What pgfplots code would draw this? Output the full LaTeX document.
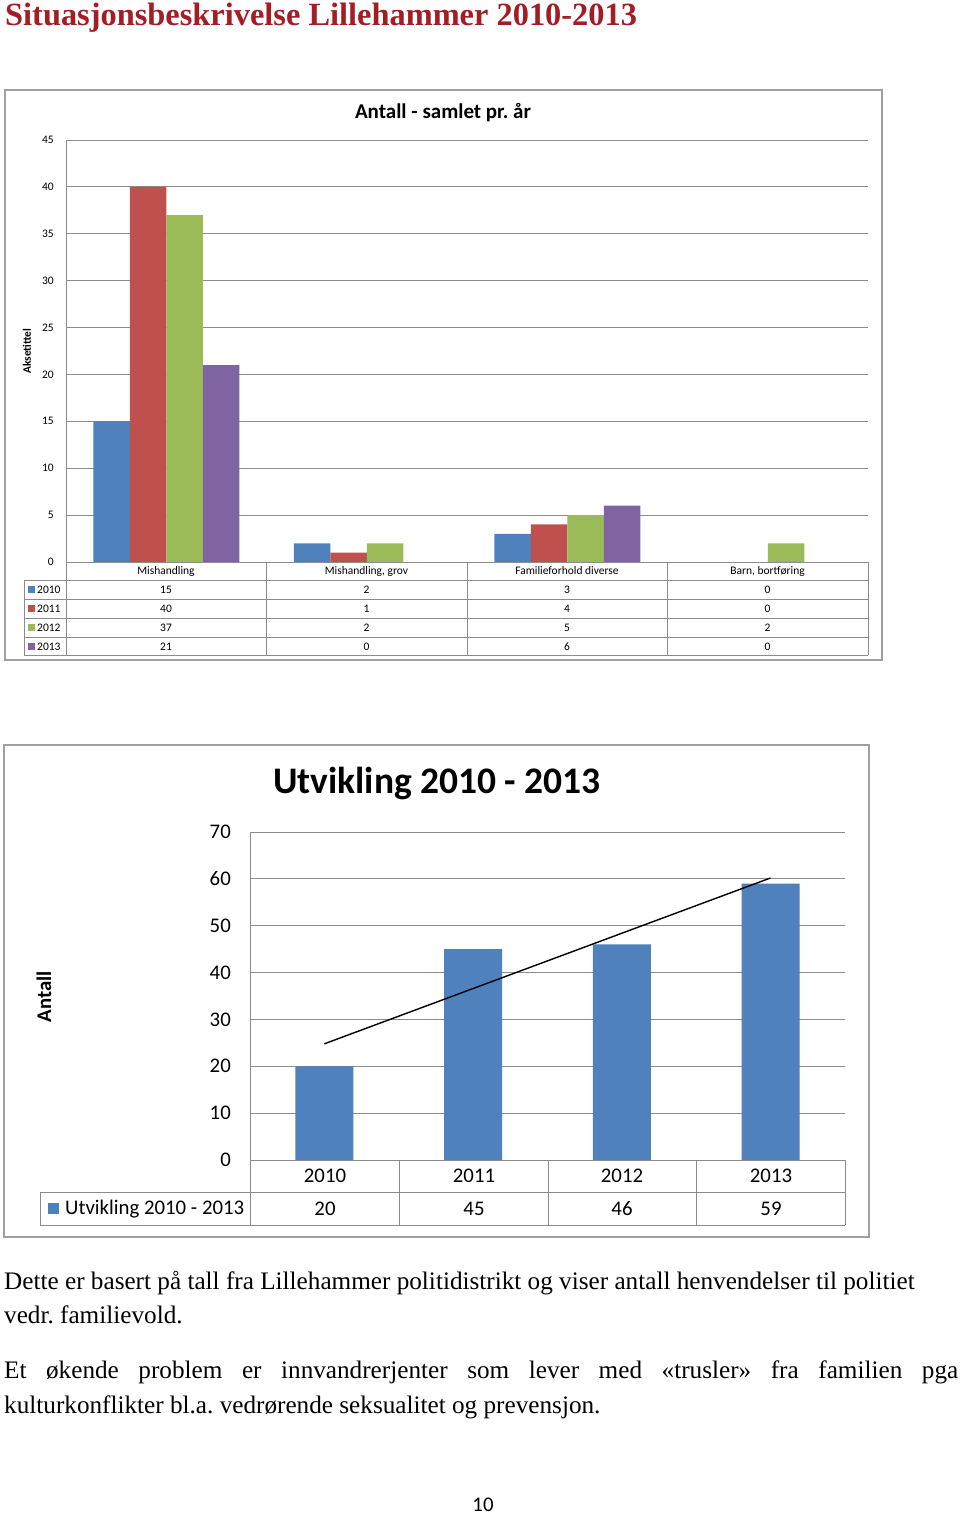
\documentclass[border=0pt]{standalone}
\usepackage{pgfplots}
\pgfplotsset{compat=1.18}
\usepackage{fontspec}
\setmainfont{Liberation Serif}
\newfontfamily\calfont{Carlito}
\definecolor{c1}{HTML}{4F81BD}
\definecolor{c2}{HTML}{C0504D}
\definecolor{c3}{HTML}{9BBB59}
\definecolor{c4}{HTML}{8064A2}
\definecolor{gridc}{HTML}{8C8C8C}
\definecolor{framec}{HTML}{A0A0A0}
\definecolor{titlered}{HTML}{A31D24}
\newcommand{\fs}[1]{\fontsize{#1}{#1}\selectfont}
\frenchspacing
\begin{document}
\begin{tikzpicture}[x=1pt,y=1pt]
\path[fill=white, use as bounding box] (0,0) rectangle (960,-1515);
\node[anchor=base west, inner sep=0pt, text=titlered, font=\bfseries\fs{32.4}] at (5,-25) {Situasjonsbeskrivelse Lillehammer 2010-2013};
% ---------- chart 1 ----------
\draw[framec, line width=1.2pt] (5,-90) rectangle (882,-660);
\node[font=\calfont\bfseries\fs{21}] at (443,-113) {Antall - samlet pr.\ år};
\node[font=\calfont\bfseries\fs{11.4}, rotate=90] at (27,-351) {Aksetittel};
\begin{axis}[at={(66pt,-562pt)}, anchor=south west, scale only axis, width=802pt, height=422pt,
 xmin=-0.5, xmax=3.5, ymin=0, ymax=45, enlargelimits=false,
 ybar=0pt, bar width=36.5pt,
 axis y line*=left, axis x line*=bottom, axis line style={gridc, line width=0.8pt},
 xtick=\empty, ytick={0,5,...,45},
 ymajorgrids, major grid style={gridc, line width=0.8pt},
 major tick length=0pt,
 /pgf/number format/assume math mode=true,
 yticklabel style={font=\calfont\fs{11.5}, inner sep=0pt, xshift=-12pt},
]
\addplot[fill=c1, draw=none] coordinates {(0,15) (1,2) (2,3) (3,0)};
\addplot[fill=c2, draw=none] coordinates {(0,40) (1,1) (2,4) (3,0)};
\addplot[fill=c3, draw=none] coordinates {(0,37) (1,2) (2,5) (3,2)};
\addplot[fill=c4, draw=none] coordinates {(0,21) (1,0) (2,6) (3,0)};
\end{axis}
\begin{scope}[gridc, line width=0.8pt]
\draw (66,-562) -- (868,-562);
\foreach \y in {580,599,618,637,655} \draw (24,-\y) -- (868,-\y);
\draw (24,-580) -- (24,-655);
\foreach \x in {66,266,467,667,868} \draw (\x,-562) -- (\x,-655);
\end{scope}
\begin{scope}[font=\calfont\fs{11.5}]
\node at (166,-571) {Mishandling};
\node at (366.5,-571) {Mishandling, grov};
\node at (567,-571) {Familieforhold diverse};
\node at (767.5,-571) {Barn, bortføring};
\foreach \yr/\col/\yy/\a/\b/\c/\d in {2010/c1/589.5/15/2/3/0, 2011/c2/608.5/40/1/4/0, 2012/c3/627.5/37/2/5/2, 2013/c4/646.5/21/0/6/0}{
  \fill[\col] (28,-\yy+3.5) rectangle (35,-\yy-3.5);
  \node[anchor=west, inner sep=0pt] at (37,-\yy) {\yr};
  \node at (166,-\yy) {\a};
  \node at (366.5,-\yy) {\b};
  \node at (567,-\yy) {\c};
  \node at (767.5,-\yy) {\d};
}
\end{scope}
% ---------- chart 2 ----------
\draw[framec, line width=1.2pt] (4,-745) rectangle (869,-1237);
\node[font=\calfont\bfseries\fs{37.5}] at (437,-784) {Utvikling 2010 - 2013};
\node[font=\calfont\bfseries\fs{20.8}, rotate=90] at (44,-997) {Antall};
\begin{axis}[at={(250pt,-1160pt)}, anchor=south west, scale only axis, width=595pt, height=328pt,
 xmin=-0.5, xmax=3.5, ymin=0, ymax=70, enlargelimits=false,
 axis y line*=left, axis x line*=bottom, axis line style={gridc, line width=0.8pt},
 xtick=\empty, ytick={0,10,...,70},
 ymajorgrids, major grid style={gridc, line width=0.8pt},
 major tick length=0pt,
 /pgf/number format/assume math mode=true,
 yticklabel style={font=\calfont\fs{20.8}, inner sep=0pt, xshift=-19pt},
]
\addplot[ybar, bar width=58pt, fill=c1, draw=none] coordinates {(0,20) (1,45) (2,46) (3,59)};
\addplot[black, line width=1.4pt, mark=none] coordinates {(0,24.8) (3,60.2)};
\end{axis}
\begin{scope}[gridc, line width=0.8pt]
\draw (250,-1160) -- (845,-1160);
\draw (40,-1192) -- (845,-1192);
\draw (40,-1225) -- (845,-1225);
\draw (40,-1192) -- (40,-1225);
\foreach \x in {250,399,548,696,845} \draw (\x,-1160) -- (\x,-1225);
\end{scope}
\begin{scope}[font=\calfont\fs{20.8}]
\foreach \x/\yr/\v in {325/2010/20, 474/2011/45, 622/2012/46, 771/2013/59}{
  \node at (\x,-1176) {\yr};
  \node at (\x,-1209) {\v};
}
\fill[c1] (48,-1203) rectangle (59,-1214);
\node[anchor=west, inner sep=0pt] at (65,-1209) {Utvikling 2010 - 2013};
\end{scope}
% ---------- text ----------
\begin{scope}[font=\fs{25.2}]
\node[anchor=base west, inner sep=0pt] at (4,-1289) {Dette er basert på tall fra Lillehammer politidistrikt og viser antall henvendelser til politiet};
\node[anchor=base west, inner sep=0pt] at (4,-1323) {vedr. familievold.};
\node[anchor=base west, inner sep=0pt] at (4,-1378) {\makebox[954pt][s]{Et økende problem er innvandrerjenter som lever med «trusler» fra familien pga}};
\node[anchor=base west, inner sep=0pt] at (4,-1413) {kulturkonflikter bl.a. vedrørende seksualitet og prevensjon.};
\end{scope}
\node[anchor=base, inner sep=0pt, font=\calfont\fs{20.8}] at (483,-1511) {10};
\end{tikzpicture}
\end{document}
